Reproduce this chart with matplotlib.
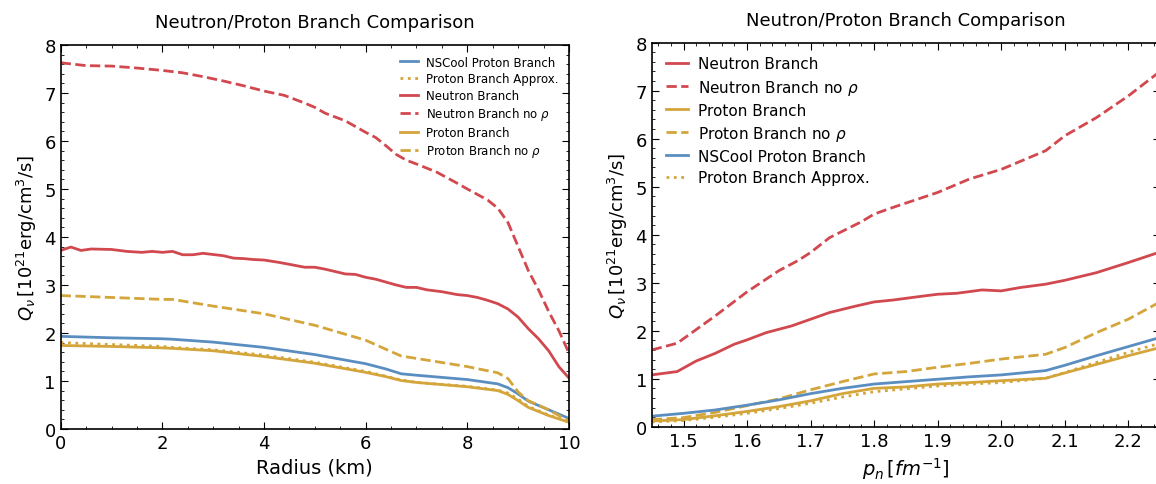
import matplotlib
matplotlib.use("Agg")
import matplotlib.pyplot as plt
from matplotlib.ticker import AutoMinorLocator

# ---- left panel: Q_nu vs radius ----
r_dash_n = [0, 0.5, 1, 1.5, 2, 2.4, 2.8, 3.2, 3.6, 4, 4.4, 4.8, 5, 5.2, 5.6, 6, 6.2, 6.4,
            6.6, 6.8, 7, 7.4, 7.8, 8, 8.4, 8.6, 8.8, 9.0, 9.2, 9.4, 9.6, 9.8, 10]
q_neutron_norho = [7.63, 7.57, 7.56, 7.52, 7.47, 7.42, 7.34, 7.25, 7.15, 7.04, 6.95, 6.79, 6.70,
                   6.58, 6.42, 6.18, 6.07, 5.90, 5.72, 5.60, 5.52, 5.35, 5.12, 5.00, 4.77, 4.60,
                   4.30, 3.80, 3.30, 2.90, 2.45, 2.05, 1.58]

r_neutron = [0, 0.2, 0.4, 0.6, 1, 1.3, 1.6, 1.8, 2, 2.2, 2.4, 2.6, 2.8, 3.2, 3.4, 3.6, 3.8, 4,
             4.3, 4.6, 4.8, 5, 5.2, 5.4, 5.6, 5.8, 6, 6.2, 6.4, 6.6, 6.8, 7, 7.2, 7.5, 7.8, 8,
             8.2, 8.4, 8.6, 8.8, 9, 9.2, 9.4, 9.6, 9.8, 10]
q_neutron = [3.72, 3.79, 3.72, 3.75, 3.74, 3.70, 3.68, 3.70, 3.68, 3.70, 3.63, 3.63, 3.66, 3.61,
             3.56, 3.55, 3.53, 3.52, 3.47, 3.41, 3.37, 3.37, 3.33, 3.28, 3.23, 3.22, 3.16, 3.12,
             3.06, 3.00, 2.95, 2.95, 2.90, 2.86, 2.80, 2.78, 2.74, 2.68, 2.61, 2.50, 2.33, 2.09,
             1.88, 1.63, 1.30, 1.06]

r_proton = [0, 1, 2, 2.2, 3, 4, 5, 6, 6.4, 6.7, 7, 8, 8.6, 8.8, 9, 9.2, 9.6, 10]
q_proton_norho = [2.78, 2.74, 2.70, 2.70, 2.56, 2.40, 2.16, 1.85, 1.66, 1.52, 1.47, 1.30, 1.17,
                  1.05, 0.77, 0.59, 0.40, 0.16]
q_nscool = [1.93, 1.90, 1.88, 1.87, 1.81, 1.70, 1.55, 1.36, 1.25, 1.15, 1.12, 1.03, 0.94, 0.86,
            0.73, 0.58, 0.40, 0.22]
q_proton = [1.74, 1.72, 1.69, 1.68, 1.63, 1.51, 1.37, 1.18, 1.09, 1.01, 0.97, 0.88, 0.80, 0.72,
            0.59, 0.45, 0.28, 0.14]
q_approx = [1.80, 1.76, 1.72, 1.70, 1.65, 1.54, 1.39, 1.20, 1.10, 1.02, 0.97, 0.89, 0.81, 0.75,
            0.62, 0.47, 0.29, 0.15]

# ---- right panel: Q_nu vs p_n ----
p_dash_n = [1.45, 1.49, 1.55, 1.60, 1.65, 1.68, 1.70, 1.73, 1.78, 1.80, 1.83, 1.90, 1.95, 2.00,
            2.07, 2.10, 2.15, 2.20, 2.25]
qp_neutron_norho = [1.60, 1.74, 2.31, 2.81, 3.25, 3.46, 3.63, 3.94, 4.27, 4.43, 4.57, 4.88, 5.16,
                    5.36, 5.75, 6.06, 6.44, 6.89, 7.40]

p_neutron = [1.45, 1.49, 1.52, 1.55, 1.58, 1.60, 1.63, 1.67, 1.70, 1.73, 1.77, 1.80, 1.83, 1.87,
             1.90, 1.93, 1.97, 2.00, 2.03, 2.07, 2.10, 2.15, 2.20, 2.25]
qp_neutron = [1.08, 1.15, 1.37, 1.53, 1.72, 1.81, 1.96, 2.10, 2.24, 2.38, 2.51, 2.60, 2.64, 2.71,
              2.76, 2.78, 2.85, 2.83, 2.90, 2.97, 3.05, 3.21, 3.42, 3.64]

p_proton = [1.45, 1.50, 1.55, 1.60, 1.65, 1.70, 1.75, 1.80, 1.85, 1.90, 1.95, 2.00, 2.07, 2.10,
            2.15, 2.20, 2.25]
qp_proton_norho = [0.15, 0.19, 0.30, 0.44, 0.58, 0.77, 0.94, 1.10, 1.15, 1.24, 1.32, 1.41, 1.51,
                   1.65, 1.96, 2.24, 2.60]
qp_nscool = [0.22, 0.28, 0.35, 0.45, 0.56, 0.69, 0.80, 0.89, 0.94, 0.99, 1.04, 1.08, 1.17, 1.28,
             1.48, 1.67, 1.86]
qp_proton = [0.12, 0.15, 0.23, 0.32, 0.42, 0.54, 0.69, 0.80, 0.83, 0.89, 0.92, 0.96, 1.01, 1.12,
             1.30, 1.48, 1.65]
qp_approx = [0.10, 0.13, 0.20, 0.28, 0.38, 0.49, 0.62, 0.73, 0.79, 0.85, 0.89, 0.92, 1.01, 1.13,
             1.34, 1.55, 1.74]

RED = "#d1484f"
GOLD = "#d4a53a"
BLUE = "#5b8ec0"
LW = 2.0

plt.rcParams.update({
    "font.family": "DejaVu Sans",
    "mathtext.fontset": "dejavusans",
    "xtick.direction": "in",
    "ytick.direction": "in",
    "xtick.top": True,
    "ytick.right": True,
    "xtick.major.size": 5,
    "ytick.major.size": 5,
    "xtick.minor.size": 2.5,
    "ytick.minor.size": 2.5,
    "xtick.minor.visible": True,
    "ytick.minor.visible": True,
    "axes.linewidth": 1.2,
})

fig = plt.figure(figsize=(11.56, 4.85), dpi=100)
ax1 = fig.add_axes([0.0525, 0.1134, 0.4397, 0.7918])
ax2 = fig.add_axes([0.5638, 0.118, 0.4397, 0.792])

ylab = r"$Q_\nu\,[10^{21}\mathrm{erg/cm^3/s}]$"

ax1.plot(r_proton, q_nscool, color=BLUE, lw=LW, label="NSCool Proton Branch")
ax1.plot(r_proton, q_approx, color=GOLD, lw=LW, ls=":", label="Proton Branch Approx.")
ax1.plot(r_neutron, q_neutron, color=RED, lw=LW, label="Neutron Branch")
ax1.plot(r_dash_n, q_neutron_norho, color=RED, lw=LW, ls="--", label=r"Neutron Branch no $\rho$")
ax1.plot(r_proton, q_proton, color=GOLD, lw=LW, label="Proton Branch")
ax1.plot(r_proton, q_proton_norho, color=GOLD, lw=LW, ls="--", label=r"Proton Branch no $\rho$")
ax1.set_xlim(0, 10)
ax1.set_ylim(0, 8)
ax1.set_xlabel("Radius (km)", fontsize=14)
ax1.set_ylabel(ylab, fontsize=13)
ax1.set_title("Neutron/Proton Branch Comparison", fontsize=13, pad=13)
ax1.legend(loc="upper right", frameon=False, fontsize=8.5, handlelength=1.5,
           handletextpad=0.7, labelspacing=0.3)

ax2.plot(p_neutron, qp_neutron, color=RED, lw=LW, label="Neutron Branch")
ax2.plot(p_dash_n, qp_neutron_norho, color=RED, lw=LW, ls="--", label=r"Neutron Branch no $\rho$")
ax2.plot(p_proton, qp_proton, color=GOLD, lw=LW, label="Proton Branch")
ax2.plot(p_proton, qp_proton_norho, color=GOLD, lw=LW, ls="--", label=r"Proton Branch no $\rho$")
ax2.plot(p_proton, qp_nscool, color=BLUE, lw=LW, label="NSCool Proton Branch")
ax2.plot(p_proton, qp_approx, color=GOLD, lw=LW, ls=":", label="Proton Branch Approx.")
ax2.set_xlim(1.45, 2.25)
ax2.set_ylim(0, 8)
ax2.set_xlabel(r"$p_n\,[fm^{-1}]$", fontsize=14)
ax2.set_ylabel(ylab, fontsize=13)
ax2.set_title("Neutron/Proton Branch Comparison", fontsize=13, pad=13)
ax2.legend(loc="upper left", frameon=False, fontsize=11, handlelength=1.5,
           handletextpad=0.6, labelspacing=0.4)

for ax in (ax1, ax2):
    ax.tick_params(labelsize=13)
    ax.yaxis.set_minor_locator(AutoMinorLocator(5))
ax1.xaxis.set_minor_locator(AutoMinorLocator(4))
ax2.xaxis.set_minor_locator(AutoMinorLocator(5))

fig.savefig("out.png", dpi=100)
